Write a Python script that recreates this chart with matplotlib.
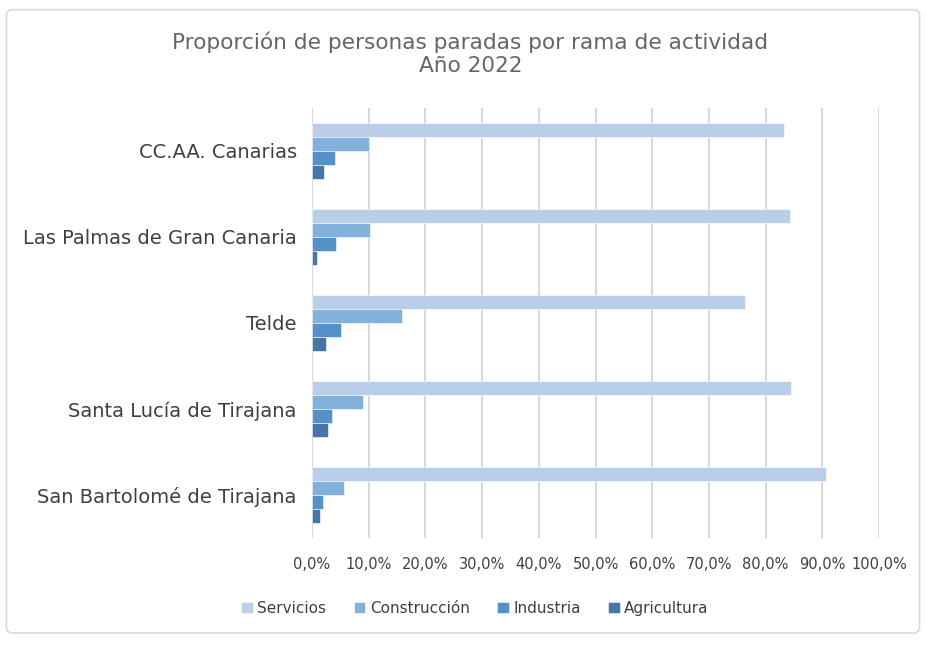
import numpy as np
import matplotlib
matplotlib.use('Agg')
import matplotlib.pyplot as plt
from matplotlib.patches import FancyBboxPatch

# data (percent)
categories = ['CC.AA. Canarias', 'Las Palmas de Gran Canaria', 'Telde',
              'Santa Lucía de Tirajana', 'San Bartolomé de Tirajana']
servicios = [83.3, 84.3, 76.4, 84.4, 90.7]
construccion = [10.0, 10.3, 15.8, 9.0, 5.6]
industria = [4.0, 4.3, 5.1, 3.5, 2.0]
agricultura = [2.2, 0.9, 2.5, 2.8, 1.4]
series_names = ['Servicios', 'Construcción', 'Industria', 'Agricultura']
colors = ['#B9CEE8', '#84B0DC', '#5591C8', '#4676A8']

fig = plt.figure(figsize=(9.26, 6.46), dpi=100)
fig.patches.append(FancyBboxPatch((0.007, 0.02), 0.986, 0.965,
                                  boxstyle='round,pad=0,rounding_size=0.008',
                                  transform=fig.transFigure, fill=False,
                                  edgecolor='#D9D9D9', linewidth=1.2))

ax = fig.add_axes([312 / 926, 1 - 538 / 646, (879 - 312) / 926, 430 / 646])

y = np.arange(len(categories))
h = 0.163
all_series = [servicios, construccion, industria, agricultura]
for k, (vals, name, c) in enumerate(zip(all_series, series_names, colors)):
    ax.barh(y - 1.5 * h + k * h, vals, height=h, color=c, label=name,
            edgecolor='white', linewidth=0.4, zorder=3)

ax.set_xlim(0, 100)
ax.set_ylim(len(categories) - 0.5, -0.5)
ax.set_xticks(np.arange(0, 101, 10))
ax.set_xticklabels([f'{v:.1f}%'.replace('.', ',') for v in range(0, 101, 10)],
                   fontsize=10.5, color='#404040')
ax.set_yticks(y)
ax.set_yticklabels(categories, fontsize=14, color='#404040')
ax.tick_params(length=0)
ax.tick_params(axis='y', pad=11)
ax.tick_params(axis='x', pad=14)
ax.grid(axis='x', color='#D9D9D9', linewidth=1.5, zorder=0)
for s in ax.spines.values():
    s.set_visible(False)

fig.text(0.508, 0.917, 'Proporción de personas paradas por rama de actividad\nAño 2022',
         ha='center', va='center', fontsize=15.6, color='#666666', linespacing=1.2)

fig.legend(loc='center', bbox_to_anchor=(0.513, 0.058), ncol=4, frameon=False,
           fontsize=11, handlelength=0.75, handleheight=0.75, columnspacing=1.8,
           handletextpad=0.3, labelcolor='#404040')

fig.savefig('out.png', dpi=100, facecolor='white')
